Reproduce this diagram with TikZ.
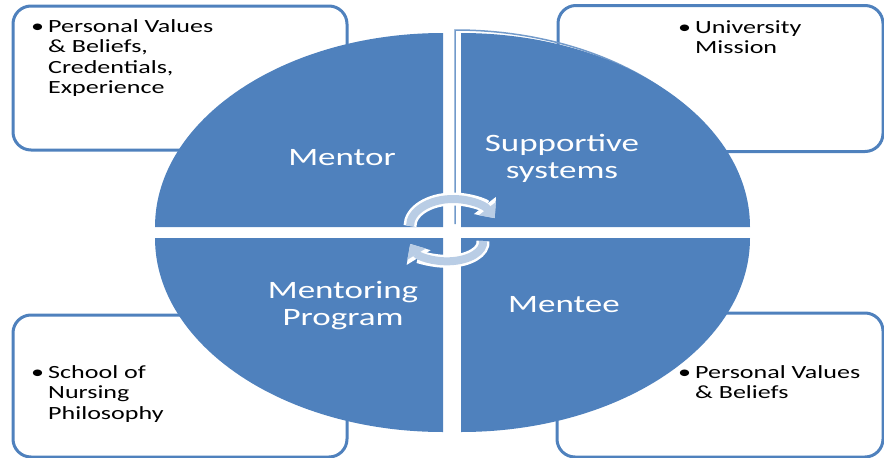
\documentclass[tikz,border=0pt]{standalone}
\usepackage{fontspec}
\setmainfont{Carlito}[FakeStretch=1.4]
\usepackage{tikz}
\usetikzlibrary{arrows.meta}

\definecolor{quadblue}{HTML}{4F81BD}
\definecolor{cyclefill}{HTML}{B9CDE5}

\newcommand{\bulletlist}[1]{\begin{tabular}[t]{@{}p{17pt}@{}l@{}}\textbullet & #1\end{tabular}}

\begin{document}
\begin{tikzpicture}[
  x=1pt, y=1pt,
  infobox/.style={draw=quadblue,line width=3pt,rounded corners=18pt,fill=white,inner sep=0pt},
  quad/.style={fill=quadblue},
  qlabel/.style={text=white,align=center,font=\fontsize{25}{27}\selectfont},
  blist/.style={anchor=base west,inner sep=0pt,font=\fontsize{18.6}{20.5}\selectfont},
  cycleout/.style={white,line width=13pt,shorten >=-5pt,-{Triangle[width=27pt,length=16pt]}},
  cyclein/.style={cyclefill,line width=8pt,shorten >=-5pt,-{Triangle[width=21pt,length=12pt]}}
]
  \useasboundingbox (0,0) rectangle (884,-458);

  % corner boxes
  \node[infobox,minimum width=334,minimum height=144] (bmentor) at (180,-78) {};
  \node[infobox,minimum width=325,minimum height=146] (bsupport) at (720.5,-78.5) {};
  \node[infobox,minimum width=334,minimum height=142] (bprogram) at (180,-386) {};
  \node[infobox,minimum width=326,minimum height=144] (bmentee) at (720,-385) {};

  % quadrants
  \draw[quadblue!80,line width=1.5pt] (455,-224) -- (455,-30) arc[start angle=90,end angle=0,x radius=289,y radius=194];
  \fill[quad] (443,-227) -- (155,-227) arc[start angle=180,end angle=90,x radius=288,y radius=194] -- cycle;
  \fill[quad] (461,-227) -- (461,-33) arc[start angle=90,end angle=0,x radius=289,y radius=194] -- cycle;
  \fill[quad] (443,-238) -- (155,-238) arc[start angle=180,end angle=270,x radius=288,y radius=194] -- cycle;
  \fill[quad] (461,-238) -- (750,-238) arc[start angle=0,end angle=-90,x radius=289,y radius=194] -- cycle;

  % cycle arrows
  \draw[cycleout] (410,-226) arc[start angle=180,end angle=26,x radius=43,y radius=27];
  \draw[cyclein] (410,-226) arc[start angle=180,end angle=26,x radius=43,y radius=27];
  \draw[cycleout] (483,-241) arc[start angle=4,end angle=-162,x radius=36,y radius=19];
  \draw[cyclein] (483,-241) arc[start angle=4,end angle=-162,x radius=36,y radius=19];

  % quadrant labels
  \node[qlabel] (lmentor) at (342,-158) {Mentor};
  \node[qlabel] (lsupport) at (562,-158) {Supportive\\systems};
  \node[qlabel] (lprogram) at (343,-306) {Mentoring\\Program};
  \node[qlabel] (lmentee) at (564,-305) {Mentee};

  % box texts
  \node[blist] (tmentor) at (31,-32) {\bulletlist{Personal Values\\ & \& Beliefs,\\ & Credentials,\\ & Experience}};
  \node[blist] (tsupport) at (678,-33) {\bulletlist{University\\ & Mission}};
  \node[blist] (tprogram) at (31,-378) {\bulletlist{School of\\ & Nursing\\ & Philosophy}};
  \node[blist] (tmentee) at (678,-378) {\bulletlist{Personal Values\\ & \& Beliefs}};
\end{tikzpicture}
\end{document}
